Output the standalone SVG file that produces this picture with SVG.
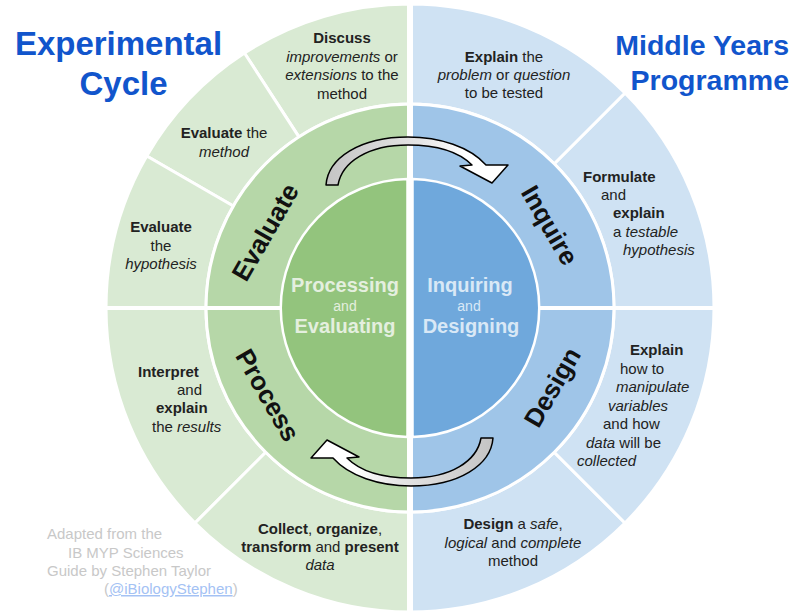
<svg xmlns="http://www.w3.org/2000/svg" xmlns:xlink="http://www.w3.org/1999/xlink" width="798" height="616" viewBox="0 0 798 616">
<style>
text{font-family:"Liberation Sans",Arial,sans-serif;}
.t{font-size:15px;fill:#222;}
.m{text-anchor:middle;}
.b{font-weight:bold;}
.i{font-style:italic;}
.og{fill:#d9ead3;stroke:#fff;stroke-width:3;}
.ob{fill:#cfe2f3;stroke:#fff;stroke-width:3;}
.mg{fill:#b6d7a8;stroke:#fff;stroke-width:3;}
.mb{fill:#9fc5e8;stroke:#fff;stroke-width:3;}
.ig{fill:#93c47d;stroke:#fff;stroke-width:2.5;}
.ib{fill:#6fa8dc;stroke:#fff;stroke-width:2.5;}
.lab{font-size:26px;font-weight:bold;fill:#111;text-anchor:middle;}
.title{font-weight:bold;fill:#1155cc;}
.inn{font-size:20px;font-weight:bold;text-anchor:middle;}
.and{font-size:14px;text-anchor:middle;}
.cr{font-size:15px;fill:#c8c8c8;}
</style>
<defs>
<linearGradient id="ag" gradientUnits="userSpaceOnUse" x1="326" y1="0" x2="500" y2="0">
<stop offset="0" stop-color="#c4c4c4"/>
<stop offset="0.55" stop-color="#e6e6e6"/>
<stop offset="0.8" stop-color="#ffffff"/>
<stop offset="1" stop-color="#ffffff"/>
</linearGradient>
</defs>

<g id="title-left">
<text class="title m" x="118.5" y="55" font-size="33">Experimental</text>
<text class="title m" x="123.5" y="95" font-size="33">Cycle</text>
</g>
<g id="title-right">
<text class="title" x="789" y="55" font-size="28.5" text-anchor="end">Middle Years</text>
<text class="title" x="789" y="90" font-size="28.5" text-anchor="end">Programme</text>
</g>

<g id="outer-discuss">
<path class="og" d="M410,4 A304,304 0 0 0 244.43,53.04 L298.9,136.9 A204,204 0 0 1 410,104 Z"/>
<text class="t m" x="342" y="43"><tspan class="b">Discuss</tspan></text>
<text class="t m" x="342" y="61.5"><tspan class="i">improvements</tspan> or</text>
<text class="t m" x="342" y="80"><tspan class="i">extensions</tspan> to the</text>
<text class="t m" x="342" y="98.5">method</text>
</g>
<g id="outer-evaluate-method">
<path class="og" d="M244.43,53.04 A304,304 0 0 0 146.73,156 L233.3,206 A204,204 0 0 1 298.9,136.9 Z"/>
<text class="t m" x="224" y="138"><tspan class="b">Evaluate</tspan> the</text>
<text class="t m i" x="224" y="157">method</text>
</g>
<g id="outer-evaluate-hypothesis">
<path class="og" d="M146.73,156 A304,304 0 0 0 106,308 L206,308 A204,204 0 0 1 233.3,206 Z"/>
<text class="t m b" x="161" y="232">Evaluate</text>
<text class="t m" x="161" y="250.5">the</text>
<text class="t m i" x="161" y="269">hypothesis</text>
</g>
<g id="outer-interpret">
<path class="og" d="M106,308 A304,304 0 0 0 195.04,522.96 L265.75,452.25 A204,204 0 0 1 206,308 Z"/>
<text class="t b" x="138" y="377">Interpret</text>
<text class="t" x="177" y="395">and</text>
<text class="t b" x="156" y="413">explain</text>
<text class="t" x="152" y="432">the <tspan class="i">results</tspan></text>
</g>
<g id="outer-collect">
<path class="og" d="M195.04,522.96 A304,304 0 0 0 410,612 L410,512 A204,204 0 0 1 265.75,452.25 Z"/>
<text class="t m" x="320" y="534"><tspan class="b">Collect</tspan>, <tspan class="b">organize</tspan>,</text>
<text class="t m" x="320" y="552"><tspan class="b">transform</tspan> and <tspan class="b">present</tspan></text>
<text class="t m i" x="320" y="569.5">data</text>
</g>
<g id="outer-design-method">
<path class="ob" d="M410,612 A304,304 0 0 0 624.96,522.96 L554.25,452.25 A204,204 0 0 1 410,512 Z"/>
<text class="t m" x="513" y="529"><tspan class="b">Design</tspan> a <tspan class="i">safe</tspan>,</text>
<text class="t m" x="513" y="548"><tspan class="i">logical</tspan> and <tspan class="i">complete</tspan></text>
<text class="t m" x="513" y="566">method</text>
</g>
<g id="outer-explain-variables">
<path class="ob" d="M624.96,522.96 A304,304 0 0 0 714,308 L614,308 A204,204 0 0 1 554.25,452.25 Z"/>
<text class="t b" x="630" y="355">Explain</text>
<text class="t" x="620" y="374">how to</text>
<text class="t i" x="616" y="392">manipulate</text>
<text class="t i" x="608" y="410.5">variables</text>
<text class="t" x="603" y="429">and how</text>
<text class="t" x="586" y="448"><tspan class="i">data</tspan> will be</text>
<text class="t i" x="577" y="466">collected</text>
</g>
<g id="outer-formulate">
<path class="ob" d="M714,308 A304,304 0 0 0 624.96,93.04 L554.25,163.75 A204,204 0 0 1 614,308 Z"/>
<text class="t b" x="583" y="182">Formulate</text>
<text class="t" x="601" y="200">and</text>
<text class="t b" x="613" y="218">explain</text>
<text class="t" x="613" y="237">a <tspan class="i">testable</tspan></text>
<text class="t i" x="623" y="255">hypothesis</text>
</g>
<g id="outer-explain-problem">
<path class="ob" d="M624.96,93.04 A304,304 0 0 0 410,4 L410,104 A204,204 0 0 1 554.25,163.75 Z"/>
<text class="t m" x="504" y="62"><tspan class="b">Explain</tspan> the</text>
<text class="t m" x="504" y="80"><tspan class="i">problem</tspan> or <tspan class="i">question</tspan></text>
<text class="t m" x="504" y="98">to be tested</text>
</g>

<g id="mid-evaluate">
<path class="mg" d="M410,308 L410,104 A204,204 0 0 0 206,308 Z"/>
</g>
<g id="mid-inquire">
<path class="mb" d="M410,308 L614,308 A204,204 0 0 0 410,104 Z"/>
</g>
<g id="mid-design">
<path class="mb" d="M410,308 L410,512 A204,204 0 0 0 614,308 Z"/>
</g>
<g id="mid-process">
<path class="mg" d="M410,308 L206,308 A204,204 0 0 0 410,512 Z"/>
</g>

<g id="gaps" stroke="#fff" fill="none">
<line x1="410" y1="0" x2="410" y2="616" stroke-width="6"/>
<line x1="100" y1="308" x2="720" y2="308" stroke-width="4"/>
</g>

<g id="inner-processing">
<path class="ig" d="M407.5,179.02 A129,129 0 0 0 407.5,436.98 Z"/>
<text class="inn" x="345" y="292" fill="#e4efdf">Processing</text>
<text class="and" x="345" y="311" fill="#e4efdf">and</text>
<text class="inn" x="345" y="333" fill="#e4efdf">Evaluating</text>
</g>
<g id="inner-inquiring">
<path class="ib" d="M412.5,436.98 A129,129 0 0 0 412.5,179.02 Z"/>
<text class="inn" x="470" y="292" fill="#d9e8f6">Inquiring</text>
<text class="and" x="469" y="311" fill="#d9e8f6">and</text>
<text class="inn" x="471" y="333" fill="#d9e8f6">Designing</text>
</g>

<g id="labels">
<text class="lab" transform="translate(265,232) rotate(-60)" y="9.3">Evaluate</text>
<text class="lab" transform="translate(550,225) rotate(60)" y="9.3">Inquire</text>
<text class="lab" transform="translate(552,387) rotate(-60)" y="9.3">Design</text>
<text class="lab" transform="translate(268,395) rotate(60)" y="9.3">Process</text>
</g>

<g id="connectors">
<path id="arrowTop" fill="url(#ag)" stroke="#000" stroke-width="1.5" stroke-linejoin="round" d="M326,185 C328,158 360,137 408,137 C440,137 470,147 486,165 L508,165 L492,183 L460,166 L472,165 C460,153 440,145 408,145 C368,145 342,162 338,185 Z"/>
<use xlink:href="#arrowTop" href="#arrowTop" transform="rotate(180 409.5 311.5)"/>
</g>

<g id="credit">
<text class="cr" x="47" y="539">Adapted from the</text>
<text class="cr" x="68" y="558">IB MYP Sciences</text>
<text class="cr" x="47" y="576">Guide by Stephen Taylor</text>
<text class="cr" x="104" y="594">(<tspan fill="#a4c2f4" text-decoration="underline">@iBiologyStephen</tspan>)</text>
</g>
</svg>
